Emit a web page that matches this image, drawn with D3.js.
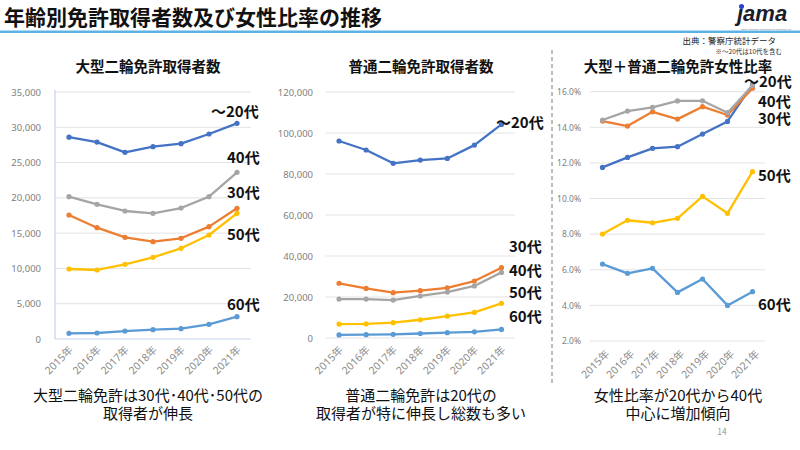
<!DOCTYPE html>
<html><head><meta charset="utf-8">
<script src="https://cdn.jsdelivr.net/npm/d3@7"></script>
<style>
html,body{margin:0;padding:0;background:#fff;}
svg{display:block;font-family:"Noto Sans CJK JP","Noto Sans",sans-serif;}
</style></head>
<body>
<svg id="c" width="800" height="450"></svg>
<script>
const years = ["2015年","2016年","2017年","2018年","2019年","2020年","2021年"];
const seriesNames = ["～20代","30代","40代","50代","60代"];
const seriesColors = ["#4472C4","#ED7D31","#A5A5A5","#FFC000","#5B9BD5"];

// 大型二輪免許取得者数
const u20L = [28600, 27900, 26450, 27250, 27680, 29050, 30560];
const s30L = [17570, 15770, 14410, 13790, 14270, 15920, 18520];
const s40L = [20170, 19080, 18140, 17810, 18560, 20170, 23620];
const s50L = [9920, 9780, 10580, 11570, 12850, 14740, 17810];
const s60L = [800, 850, 1130, 1320, 1460, 2080, 3160];

// 普通二輪免許取得者数
const u20R = [96100, 91700, 85200, 86800, 87600, 94100, 104200];
const s30R = [26700, 24200, 22100, 23100, 24500, 27800, 34300];
const s40R = [19000, 19000, 18500, 20500, 22400, 25400, 32000];
const s50R = [6800, 6900, 7500, 8900, 10700, 12500, 16900];
const s60R = [1500, 1600, 1800, 2200, 2600, 3000, 4200];

// 大型＋普通二輪免許女性比率 (%)
const u20F = [11.75, 12.31, 12.82, 12.91, 13.62, 14.33, 16.40];
const s30F = [14.35, 14.07, 14.87, 14.46, 15.16, 14.69, 16.20];
const s40F = [14.41, 14.91, 15.12, 15.48, 15.49, 14.82, 16.35];
const s50F = [8.01, 8.78, 8.64, 8.89, 10.12, 9.17, 11.51];
const s60F = [6.32, 5.80, 6.08, 4.73, 5.48, 4.00, 4.77];

const ticksL = [0,5000,10000,15000,20000,25000,30000,35000];
const ticksR = [0,20000,40000,60000,80000,100000,120000];
const ticksF = [2,4,6,8,10,12,14,16];

const svg = d3.select("#c");

// Header
svg.append("text").attr("x",4).attr("y",25).attr("font-size",21).attr("font-weight","bold")
  .attr("fill","#111").text("年齢別免許取得者数及び女性比率の推移");
svg.append("rect").attr("x",0).attr("y",30.5).attr("width",800).attr("height",2.5).attr("fill","#5BB2E3");

// logo
svg.append("text").attr("x",737).attr("y",21).attr("font-family","'Liberation Sans',sans-serif")
  .attr("font-size",22).attr("font-style","italic").attr("font-weight","bold").attr("fill","#1c1c2c").text("jama");
svg.append("circle").attr("cx",741.5).attr("cy",6.5).attr("r",2.5).attr("fill","#2E3FD6");
svg.append("text").attr("x",741).attr("y",29.6).attr("font-size",2.3).attr("fill","#777")
  .attr("font-family","'Liberation Sans',sans-serif").text("Japan Automobile Manufacturers Association, Inc.");

svg.append("text").attr("x",776).attr("y",44).attr("text-anchor","end").attr("font-size",8.5).attr("fill","#222").text("出典：警察庁統計データ");
svg.append("text").attr("x",782).attr("y",54).attr("text-anchor","end").attr("font-size",6.5).attr("fill","#333").text("※～20代は10代を含む");

// separator
svg.append("line").attr("x1",552).attr("x2",552).attr("y1",50).attr("y2",386)
  .attr("stroke","#A6A6A6").attr("stroke-width",1.5).attr("stroke-dasharray","4,3");

svg.append("text").attr("x",722).attr("y",435).attr("text-anchor","middle").attr("font-size",8.5).attr("fill","#999").text("14");

function panel(cfg){
  const g = svg.append("g");
  const x = d3.scaleBand().domain(years).range(cfg.xr).paddingInner(0).paddingOuter(0);
  const y = d3.scaleLinear().domain(cfg.yd).range(cfg.yr);
  // gridlines
  g.selectAll(".grid").data(cfg.ticks.filter(t=>cfg.axisBox? t!==cfg.yd[0] : true)).enter().append("line")
    .attr("x1",cfg.xr[0]).attr("x2",cfg.xr[1]).attr("y1",d=>y(d)).attr("y2",d=>y(d))
    .attr("stroke","#E3E3E3").attr("stroke-width",1);
  if(cfg.axisBox){
    g.append("line").attr("x1",cfg.xr[0]).attr("x2",cfg.xr[0]).attr("y1",cfg.yr[1]-2).attr("y2",cfg.yr[0])
      .attr("stroke","#C5D3EA").attr("stroke-width",1.2);
    g.append("line").attr("x1",cfg.xr[0]).attr("x2",cfg.xr[1]).attr("y1",cfg.yr[0]).attr("y2",cfg.yr[0])
      .attr("stroke","#C5D3EA").attr("stroke-width",1.2);
  }
  // y axis labels
  const ya = d3.axisLeft(y).tickValues(cfg.ticks).tickFormat(cfg.fmt).tickSize(0).tickPadding(0);
  const yg = g.append("g").attr("transform",`translate(${cfg.labelX},0)`).call(ya);
  yg.select(".domain").remove();
  yg.selectAll("text").attr("fill","#808080").attr("font-size",cfg.tickFont).attr("font-family","'Noto Sans',sans-serif");
  // x axis labels
  const xa = d3.axisBottom(x).tickSize(0).tickPadding(0);
  const xg = g.append("g").attr("transform",`translate(0,${cfg.xLabelY})`).call(xa);
  xg.select(".domain").remove();
  xg.selectAll("text").attr("fill","#8c8c8c").attr("font-size",10.5).attr("font-family","'Noto Sans','Noto Sans CJK JP',sans-serif")
    .attr("text-anchor","end").attr("dy","0.35em").attr("dx",0)
    .attr("transform",`translate(${cfg.xLabelDx},0) rotate(-45)`);
  // lines
  const line = d3.line().x((d,i)=>x(years[i])+x.bandwidth()/2).y(d=>y(d));
  cfg.series.forEach((s,k)=>{
    const col = seriesColors[k];
    g.append("path").datum(s).attr("d",line).attr("fill","none").attr("stroke",col)
      .attr("stroke-width",2.3).attr("stroke-linejoin","round");
    g.selectAll(null).data(s).enter().append("circle")
      .attr("cx",(d,i)=>x(years[i])+x.bandwidth()/2).attr("cy",d=>y(d)).attr("r",2.6).attr("fill",col);
  });
  // title
  svg.append("text").attr("x",cfg.titleX).attr("y",72).attr("text-anchor","middle").attr("font-size",14.5)
    .attr("font-weight","bold").attr("fill","#111").text(cfg.title);
  // series labels
  cfg.labels.forEach((p,k)=>{
    svg.append("text").attr("x",p[0]).attr("y",p[1]).attr("dy","0.35em").attr("font-size",15)
      .attr("font-weight","bold").attr("fill","#111").text(seriesNames[k]);
  });
  // caption
  cfg.caption.forEach((t,i)=>{
    svg.append("text").attr("x",cfg.titleX).attr("y",396+i*18).attr("dy","0.35em").attr("text-anchor","middle")
      .attr("font-size",15).attr("fill","#111").text(t);
  });
}

panel({
  xr:[55,251], yd:[0,35000], yr:[339,92], ticks:ticksL, fmt:d3.format(","), labelX:41, tickFont:9.5,
  xLabelY:348, xLabelDx:2, axisBox:true, series:[u20L,s30L,s40L,s50L,s60L], title:"大型二輪免許取得者数", titleX:148,
  labels:[[211,112],[227,193],[227,158],[227,235],[227,305]],
  caption:["大型二輪免許は30代･40代･50代の","取得者が伸長"]
});
panel({
  xr:[325.5,515], yd:[0,120000], yr:[338,92], ticks:ticksR, fmt:d3.format(","), labelX:313, tickFont:9.5,
  xLabelY:348, xLabelDx:2, axisBox:false, series:[u20R,s30R,s40R,s50R,s60R], title:"普通二輪免許取得者数", titleX:421,
  labels:[[496,123],[509,247],[509,271],[509,293],[509,317]],
  caption:["普通二輪免許は20代の","取得者が特に伸長し総数も多い"]
});
panel({
  xr:[590,765], yd:[2,16], yr:[341,91.7], ticks:ticksF, fmt:d=>d.toFixed(1)+"%", labelX:581, tickFont:8.5,
  xLabelY:352, xLabelDx:5, axisBox:false, series:[u20F,s30F,s40F,s50F,s60F], title:"大型＋普通二輪免許女性比率", titleX:678,
  labels:[[744,82],[758,119],[758,102],[758,176],[758,305]],
  caption:["女性比率が20代から40代","中心に増加傾向"]
});
</script>
</body></html>
